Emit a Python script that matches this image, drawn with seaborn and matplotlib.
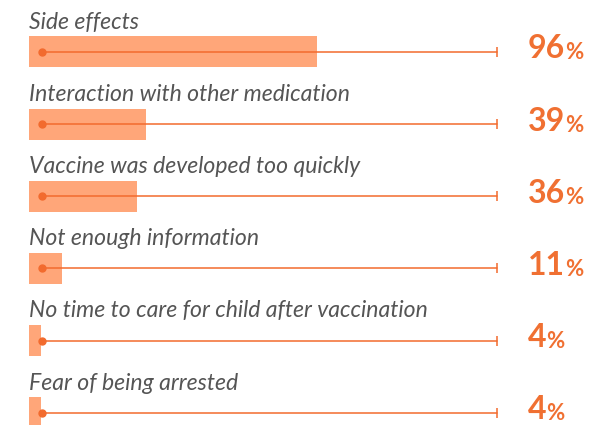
import matplotlib
matplotlib.use("Agg")
import matplotlib.pyplot as plt
import seaborn as sns
import pandas as pd

# Reasons for hesitancy
reasons = [
    "Side effects",
    "Interaction with other medication",
    "Vaccine was developed too quickly",
    "Not enough information",
    "No time to care for child after vaccination",
    "Fear of being arrested",
]
shares = [96, 39, 36, 11, 4, 4]

df = pd.DataFrame({"reason": reasons, "share": shares})

bar_color = "#FFA679"
line_color = "#F26B2E"
pct_color = "#F07032"
text_color = "#555555"

sns.set_style("white")
plt.rcParams["font.family"] = ["Lato", "DejaVu Sans"]

fig = plt.figure(figsize=(5.96, 4.25), dpi=100)
ax = fig.add_axes([0, 0, 1, 1])

sns.barplot(data=df, y="reason", x="share", orient="h", color=bar_color,
            width=0.43, saturation=1, linewidth=0, ax=ax)

# track line with start dot and end tick
for i in range(len(reasons)):
    ax.plot([4.3, 156], [i, i], color=line_color, lw=1.1, zorder=3)
    ax.plot(4.3, i, "o", color=line_color, ms=5, zorder=4)
    ax.plot(156, i, "|", color=line_color, ms=7, mew=1.1, zorder=4)

for i, (r, s) in enumerate(zip(reasons, shares)):
    ax.text(0, i - 0.32, r, fontsize=16.6, style="italic", color=text_color,
            va="baseline", ha="left")
    t = ax.text(166.3, i + 0.09, str(s), fontsize=23, fontweight="bold",
                color=pct_color, va="baseline", ha="left")
    ax.annotate("%", xy=(1, 0), xycoords=t, fontsize=16, fontweight="bold",
                color=pct_color, va="bottom", ha="left")

ax.set_xlim(-29 / 3, 567 / 3)
ax.set_ylim(5.17, -0.72)
ax.axis("off")

fig.savefig("out.png", dpi=100)
